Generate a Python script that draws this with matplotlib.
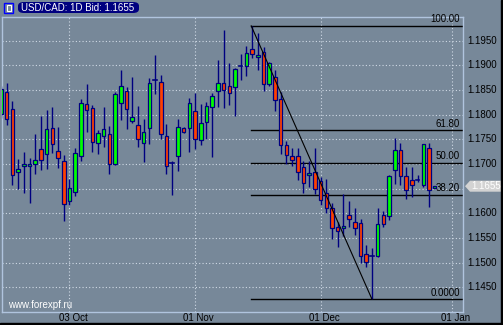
import matplotlib
matplotlib.use('Agg')
import matplotlib.pyplot as plt
from matplotlib.patches import Rectangle, FancyBboxPatch, Polygon
import numpy as np

plt.rcParams['font.family'] = ['Liberation Sans', 'DejaVu Sans']

# ---------------- data (USD/CAD daily) ----------------
opens = [1.1801, 1.1847, 1.1812, 1.1683, 1.1695, 1.1695, 1.1701, 1.1730, 1.1720, 1.1773,
         1.1726, 1.1706, 1.1624, 1.1643, 1.1716, 1.1821, 1.1813, 1.1742, 1.1757, 1.1760,
         1.1701, 1.1823, 1.1849, 1.1788, 1.1780, 1.1742, 1.1774, 1.1870, 1.1866, 1.1756,
         1.1703, 1.1716, 1.1774, 1.1774, 1.1807, 1.1748, 1.1785, 1.1815, 1.1849, 1.1864,
         1.1858, 1.1856, 1.1899, 1.1898, 1.1933, 1.1918, 1.1928, 1.1862, 1.1876, 1.1831,
         1.1738, 1.1716, 1.1716, 1.1693, 1.1677, 1.1684, 1.1665, 1.1642, 1.1610, 1.1572,
         1.1570, 1.1596, 1.1582, 1.1580, 1.1517, 1.1514, 1.1514, 1.1596, 1.1594, 1.1687,
         1.1728, 1.1675, 1.1667, 1.1667, 1.1658, 1.1732, 1.1651]
highs = [1.1858, 1.1865, 1.1828, 1.1710, 1.1724, 1.1712, 1.1761, 1.1797, 1.1810, 1.1816,
         1.1775, 1.1718, 1.1670, 1.1733, 1.1831, 1.1863, 1.1820, 1.1769, 1.1815, 1.1777,
         1.1847, 1.1891, 1.1857, 1.1876, 1.1818, 1.1791, 1.1874, 1.1921, 1.1880, 1.1781,
         1.1707, 1.1791, 1.1776, 1.1833, 1.1845, 1.1822, 1.1826, 1.1844, 1.1910, 1.1972,
         1.1905, 1.1895, 1.1924, 1.1939, 1.1980, 1.1966, 1.1938, 1.1907, 1.1891, 1.1847,
         1.1747, 1.1732, 1.1732, 1.1706, 1.1706, 1.1732, 1.1673, 1.1669, 1.1620, 1.1582,
         1.1639, 1.1625, 1.1611, 1.1588, 1.1535, 1.1530, 1.1610, 1.1605, 1.1678, 1.1753,
         1.1743, 1.1694, 1.1694, 1.1677, 1.1741, 1.1743, 1.1655]
lows = [1.1793, 1.1779, 1.1657, 1.1650, 1.1642, 1.1620, 1.1680, 1.1688, 1.1690, 1.1723,
        1.1692, 1.1585, 1.1617, 1.1635, 1.1707, 1.1765, 1.1725, 1.1720, 1.1735, 1.1680,
        1.1697, 1.1789, 1.1771, 1.1784, 1.1735, 1.1705, 1.1741, 1.1841, 1.1750, 1.1680,
        1.1638, 1.1686, 1.1762, 1.1725, 1.1730, 1.1739, 1.1750, 1.1715, 1.1816, 1.1814,
        1.1820, 1.1798, 1.1870, 1.1878, 1.1914, 1.1891, 1.1849, 1.1858, 1.1808, 1.1720,
        1.1701, 1.1696, 1.1668, 1.1642, 1.1653, 1.1640, 1.1617, 1.1601, 1.1547, 1.1532,
        1.1554, 1.1573, 1.1556, 1.1500, 1.1491, 1.1426, 1.1511, 1.1573, 1.1586, 1.1659,
        1.1657, 1.1630, 1.1634, 1.1663, 1.1654, 1.1613, 1.1651]
closes = [1.1853, 1.1791, 1.1678, 1.1689, 1.1700, 1.1700, 1.1708, 1.1709, 1.1771, 1.1740,
          1.1712, 1.1618, 1.1651, 1.1722, 1.1824, 1.1810, 1.1745, 1.1762, 1.1772, 1.1701,
          1.1841, 1.1858, 1.1812, 1.1795, 1.1750, 1.1764, 1.1864, 1.1870, 1.1760, 1.1696,
          1.1703, 1.1776, 1.1764, 1.1823, 1.1750, 1.1783, 1.1817, 1.1837, 1.1864, 1.1851,
          1.1843, 1.1892, 1.1899, 1.1926, 1.1924, 1.1922, 1.1862, 1.1904, 1.1829, 1.1738,
          1.1718, 1.1708, 1.1683, 1.1662, 1.1681, 1.1650, 1.1626, 1.1610, 1.1570, 1.1564,
          1.1574, 1.1588, 1.1570, 1.1513, 1.1501, 1.1514, 1.1578, 1.1578, 1.1675, 1.1728,
          1.1675, 1.1647, 1.1657, 1.1667, 1.1740, 1.1647, 1.1655]

date_labels = ['03 Oct', '01 Nov', '01 Dec', '01 Jan']
date_bars = [12, 34, 56, 79]            # bar number of each date line
price_grid = [1.1450, 1.1500, 1.1550, 1.1600, 1.1650, 1.1700, 1.1750, 1.1800, 1.1850, 1.1900, 1.1950]
fib_levels = [0.0, 38.2, 50.0, 61.8, 100.0]
fib_labels = ['0.0000', '38.20', '50.00', '61.80', '100.00']
fib_high_bar, fib_low_bar = 44, 65
bid_text = '1.1655'
bid_price = 1.1655
title = 'USD/CAD: 1D Bid: 1.1655'
watermark = 'www.forexpf.ru'

# ---------------- figure ----------------
W, H = 503, 325
BG = '#778899'
fig = plt.figure(figsize=(W / 100, H / 100), dpi=100)
fig.patch.set_facecolor(BG)


def fx(px):
    return px / W


def fy(py):
    return 1 - py / H


ax = fig.add_axes([fx(2), fy(312), fx(463) - fx(2), fy(17) - fy(312)])
ax.set_facecolor(BG)
n = len(opens)
xs = np.arange(n)
ax.set_xlim(0.177, 80.955)
ax.set_ylim(1.13999, 1.19981)
ax.set_xticks([])
ax.set_yticks([])
for s in ax.spines.values():
    s.set_color('#b0c4de')
    s.set_linewidth(1.0)

grid_kw = dict(color='#d0dae6', lw=0.8, ls=(0, (1, 2)), zorder=1)
for v in price_grid:
    ax.axhline(v, **grid_kw)
for b in date_bars:
    ax.axvline(b, **grid_kw)

# fibonacci
fhi = highs[fib_high_bar]
flo = lows[fib_low_bar]
for lv, lb in zip(fib_levels, fib_labels):
    p = flo + lv / 100 * (fhi - flo)
    ax.plot([fib_high_bar - 0.15, 81], [p, p], color='black', lw=1.0, zorder=2)
    ax.text(80.43, p + 0.0003, lb, ha='right', va='bottom', fontsize=7, color='black', zorder=6)
ax.plot([fib_high_bar - 0.15, fib_low_bar], [fhi, flo], color='black', lw=0.8, zorder=5)

# candles
NAVY = '#000080'
ax.vlines(xs, lows, highs, color=NAVY, lw=1.0, zorder=3)
bw = 0.62
for i in range(n):
    o, c = opens[i], closes[i]
    if c == o:
        ax.plot([i - bw / 2, i + bw / 2], [o, o], color=NAVY, lw=1.2, zorder=4)
        continue
    col = '#00ff00' if c > o else '#ff4000'
    ax.add_patch(Rectangle((i - bw / 2, min(o, c)), bw, abs(c - o), facecolor=col,
                           edgecolor=NAVY, lw=0.9, zorder=4))

# right price labels
ytr = ax.get_yaxis_transform()
for v in price_grid:
    if abs(v - bid_price) < 0.0015:
        continue
    ax.text(1.0087, v, f'{v:.4f}', transform=ytr, ha='left', va='center',
            fontsize=7, color='black', clip_on=False)

# date labels
xtr = ax.get_xaxis_transform()
for b, lb in zip(date_bars, date_labels):
    ax.text(b + 0.6, -0.021, lb, transform=xtr, ha='center', va='center',
            fontsize=7, color='black', clip_on=False)

# bid tag
y0 = ax.transData.transform((0, bid_price))[1]
ypx = H - y0
tag = Polygon([(fx(465), fy(ypx)), (fx(470), fy(ypx - 5.5)), (fx(503), fy(ypx - 5.5)),
               (fx(503), fy(ypx + 5.5)), (fx(470), fy(ypx + 5.5))], closed=True,
              transform=fig.transFigure, facecolor='#d3d3d3', edgecolor='none')
fig.add_artist(tag)
fig.text(fx(471), fy(ypx), bid_text, ha='left', va='center', fontsize=7, color='white')

# title box
fig.add_artist(FancyBboxPatch((fx(18), fy(13)), fx(121), fy(2) - fy(13),
                              boxstyle='round,pad=0,rounding_size=0.012',
                              transform=fig.transFigure, facecolor='#000080', edgecolor='none'))
fig.text(fx(21), fy(7.6), title, ha='left', va='center', fontsize=7, color='white')

# small icon
fig.add_artist(Rectangle((fx(4), fy(13)), fx(9), fy(3) - fy(13), transform=fig.transFigure,
                         facecolor='none', edgecolor='#0000ff', lw=1))
fig.add_artist(Rectangle((fx(6.5), fy(11)), fx(4), fy(5.5) - fy(11), transform=fig.transFigure,
                         facecolor='none', edgecolor='white', lw=0.8))

# watermark
fig.text(fx(8), fy(305), watermark, ha='left', va='center', fontsize=7, color='white')

# outer dark borders
fig.add_artist(Rectangle((fx(501), 0), fx(2), 1, transform=fig.transFigure, color='black'))
fig.add_artist(Rectangle((0, 0), 1, fy(323), transform=fig.transFigure, color='black'))

fig.savefig('out.png', dpi=100, facecolor=BG)
